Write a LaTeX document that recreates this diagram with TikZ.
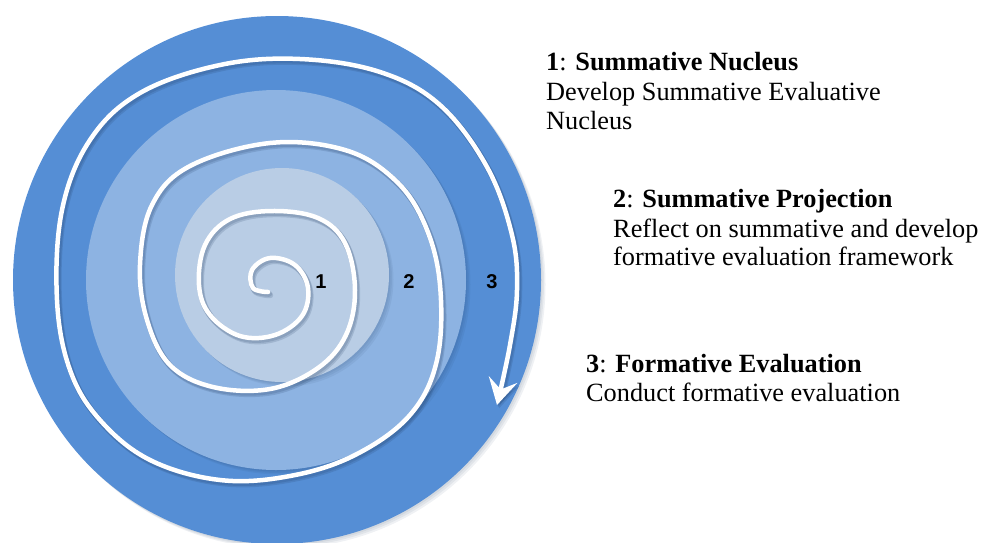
\documentclass[tikz,border=0pt]{standalone}
\usepackage{fontspec}
\setmainfont{Liberation Serif}
\newfontfamily\labfont{Liberation Sans}
\usetikzlibrary{arrows.meta}
\definecolor{ringout}{HTML}{558ED5}
\definecolor{ringmid}{HTML}{8DB3E2}
\definecolor{ringin}{HTML}{B9CDE5}
\definecolor{shadowc}{HTML}{1F3A60}
\tikzset{
  spiralline/.style={white, line width=4.5pt, line cap=round, line join=round},
  spiralshadow/.style={shadowc, opacity=0.16, line width=6pt, line cap=round, line join=round},
  discshadow/.style={fill=shadowc, opacity=0.07},
  numlabel/.style={font=\labfont\bfseries\fontsize{20}{20}\selectfont, inner sep=0pt, anchor=base},
  headtext/.style={anchor=base west, inner sep=0pt, font=\fontsize{26.3}{30}\selectfont},
  bodytext/.style={anchor=base west, inner sep=0pt, font=\fontsize{26.3}{30}\selectfont},
  arrowtip/.style={-{Stealth[length=26pt,width=29pt,inset=10pt]}},
}
\begin{document}
\begin{tikzpicture}[x=1pt,y=-1pt]
\useasboundingbox (0,0) rectangle (985,542);
\clip (0,0) rectangle (985,542);
% outer disc with soft shadow
\foreach \d in {1.5,3,4.5}{\fill[discshadow] (277+\d,280+\d) circle[radius=264pt];}
\fill[ringout] (277,280) circle[radius=264pt];
% middle disc
\foreach \d in {1.5,3,4.5}{\fill[discshadow] (276+\d,280+\d) circle[radius=190pt];}
\fill[ringmid] (276,280) circle[radius=190pt];
% inner disc
\foreach \d in {1.5,3,4.5}{\fill[discshadow] (282+\d,275+\d) circle[radius=107pt];}
\fill[ringin] (282,275) circle[radius=107pt];
% spiral
\def\spiralpts{(268,292) (253,288) (252,270) (270,258) (295,265) (308,288) (302,316) (275,335) (240,336) (210,315) (199,285) (205,245) (230,219) (272,211) (318,218) (345,243) (355,290) (346,335) (318,368) (270,389) (213,387) (170,365) (147,320) (140,265) (152,205) (190,166) (270,143) (345,150) (395,180) (425,225) (440,285) (437,360) (410,415) (355,455) (290,476) (220,480) (150,460) (100,420) (70,370) (57,300) (62,210) (90,140) (140,93) (220,65) (300,59) (380,72) (440,105) (487,167) (512,235) (517,290) (510,345) (497,405)}
\begin{scope}[shift={(1.2,1.8)}]
\draw[spiralshadow, arrowtip] plot[smooth, tension=0.62] coordinates {\spiralpts};
\end{scope}
\begin{scope}[shift={(2.2,3.2)}]
\draw[spiralshadow, arrowtip] plot[smooth, tension=0.62] coordinates {\spiralpts};
\end{scope}
\draw[spiralline, arrowtip] plot[smooth, tension=0.62] coordinates {\spiralpts};
% ring numbers
\node[numlabel] (n1) at (321,288) {1};
\node[numlabel] (n2) at (409,288) {2};
\node[numlabel] (n3) at (492,288) {3};
% legend text
\node[headtext] (h1) at (546,70) {\textbf{1}: \textbf{Summative Nucleus}};
\node[bodytext] (b1a) at (546,100) {Develop Summative Evaluative};
\node[bodytext] (b1b) at (546,129) {Nucleus};
\node[headtext] (h2) at (613,207) {\textbf{2}: \textbf{Summative Projection}};
\node[bodytext] (b2a) at (613,237) {Reflect on summative and develop};
\node[bodytext] (b2b) at (613,265) {formative evaluation framework};
\node[headtext] (h3) at (586,372) {\textbf{3}: \textbf{Formative Evaluation}};
\node[bodytext] (b3a) at (586,401) {Conduct formative evaluation};
\end{tikzpicture}
\end{document}
